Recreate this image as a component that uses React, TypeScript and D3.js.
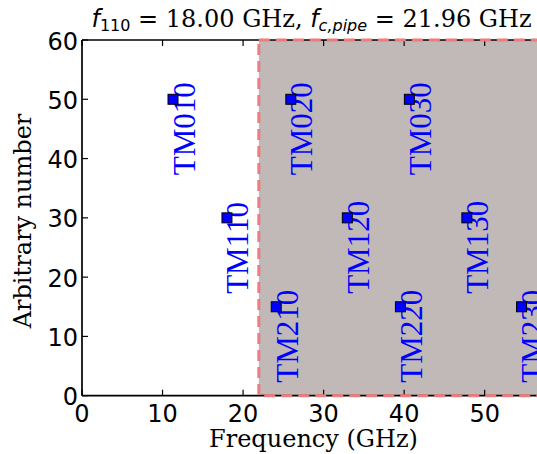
import React from "react";
import * as d3 from "d3";

// Pillbox cavity TM modes (GHz) with an arbitrary vertical row per azimuthal index
const modeNames = ["TM010", "TM020", "TM030", "TM110", "TM120", "TM130", "TM210", "TM220", "TM230"];
const modeFreqs = [11.3, 25.93, 40.65, 18.0, 32.95, 47.79, 24.12, 39.54, 54.58];
const modeRows = [50, 50, 50, 30, 30, 30, 15, 15, 15];

const cutoffPipe = 21.96;
const xTicks = [0, 10, 20, 30, 40, 50, 60];
const yTicks = [0, 10, 20, 30, 40, 50, 60];

const W = 537;
const H = 454;

export default function App() {
  const x = d3.scaleLinear().domain([0, 60]).range([82, 565.2]);
  const y = d3.scaleLinear().domain([0, 60]).range([395.7, 40]);
  const [x0, x1] = x.range();
  const [yb, yt] = y.range();
  const midX = 311.5;
  const serif = "'DejaVu Serif', serif";
  const sans = "'DejaVu Sans', sans-serif";
  const labelFont = "'Liberation Serif', serif";
  const red = "#ee7c7c";

  return (
    <svg
      width={W}
      height={H}
      style={{ position: "absolute", left: 0, top: 0, background: "#fff" }}
    >
      <defs>
        <clipPath id="page">
          <rect x={0} y={0} width={W} height={H} />
        </clipPath>
      </defs>
      <rect x={0} y={0} width={W} height={H} fill="#fff" />

      <g clipPath="url(#page)">
        {/* region above the beam-pipe cutoff */}
        <rect
          x={x(cutoffPipe)}
          y={yt}
          width={x1 - x(cutoffPipe)}
          height={yb - yt}
          fill="#c1b8b8"
        />

        {/* spines */}
        <g stroke="#000" strokeWidth={1.7} fill="none">
          <line x1={x0} y1={yb} x2={x1} y2={yb} />
          <line x1={x0} y1={yt} x2={x1} y2={yt} />
          <line x1={x0} y1={yt} x2={x0} y2={yb} />
          <line x1={x1} y1={yt} x2={x1} y2={yb} />
        </g>

        {/* inward ticks */}
        <g stroke="#000" strokeWidth={1.2}>
          {xTicks.map((t) => (
            <g key={"xt" + t}>
              <line x1={x(t)} y1={yb} x2={x(t)} y2={yb - 6} />
              <line x1={x(t)} y1={yt} x2={x(t)} y2={yt + 6} />
            </g>
          ))}
          {yTicks.map((t) => (
            <g key={"yt" + t}>
              <line x1={x0} y1={y(t)} x2={x0 + 6} y2={y(t)} />
              <line x1={x1} y1={y(t)} x2={x1 - 6} y2={y(t)} />
            </g>
          ))}
        </g>

        {/* dashed outline of the cutoff region */}
        <rect
          x={x(cutoffPipe)}
          y={yt}
          width={x1 - x(cutoffPipe)}
          height={yb - yt}
          fill="none"
          stroke={red}
          strokeWidth={3}
          strokeDasharray="11,6"
        />
      </g>

      {/* tick labels */}
      <g fontFamily={sans} fontSize={24} fill="#000">
        {xTicks.filter((t) => x(t) < W).map((t) => (
          <text key={"xl" + t} x={x(t)} y={421.5} textAnchor="middle">
            {t}
          </text>
        ))}
        {yTicks.map((t) => (
          <text key={"yl" + t} x={78} y={y(t) + 9.5} textAnchor="end">
            {t}
          </text>
        ))}
      </g>

      {/* axis labels */}
      <text
        x={midX + 2}
        y={447}
        textAnchor="middle"
        fontFamily={serif}
        fontSize={24}
        fill="#000"
      >
        Frequency (GHz)
      </text>
      <text
        transform={`translate(31, 221) rotate(-90)`}
        textAnchor="middle"
        fontFamily={serif}
        fontSize={24}
        fill="#000"
      >
        Arbitrary number
      </text>

      {/* title */}
      <text x={midX} y={27} textAnchor="middle" fontFamily={serif} fontSize={24} fill="#000">
        <tspan fontFamily={sans} fontStyle="italic">f</tspan>
        <tspan fontFamily={sans} fontSize={16} dy={3.5}>110</tspan>
        <tspan dy={-3.5}> = 18.00 GHz, </tspan>
        <tspan fontFamily={sans} fontStyle="italic">f</tspan>
        <tspan fontFamily={sans} fontStyle="italic" fontSize={16} dy={3.5}>c,pipe</tspan>
        <tspan dy={-3.5}> = 21.96 GHz</tspan>
      </text>

      {/* mode labels and markers */}
      <g clipPath="url(#page)">
        {modeNames.map((name, i) => {
          const mx = x(modeFreqs[i]);
          const my = y(modeRows[i]);
          return (
            <text
              key={"lab" + name}
              transform={`translate(${mx + 21.5}, ${my + 76}) rotate(-90)`}
              fontFamily={labelFont}
              fontSize={31}
              fill="#0000ff"
            >
              {name}
            </text>
          );
        })}
        {modeNames.map((name, i) => {
          const mx = x(modeFreqs[i]);
          const my = y(modeRows[i]);
          return (
            <rect
              key={"pt" + name}
              x={mx - 5}
              y={my - 5}
              width={10}
              height={10}
              fill="#0000ff"
              stroke="#000"
              strokeWidth={1}
            />
          );
        })}
      </g>
    </svg>
  );
}
